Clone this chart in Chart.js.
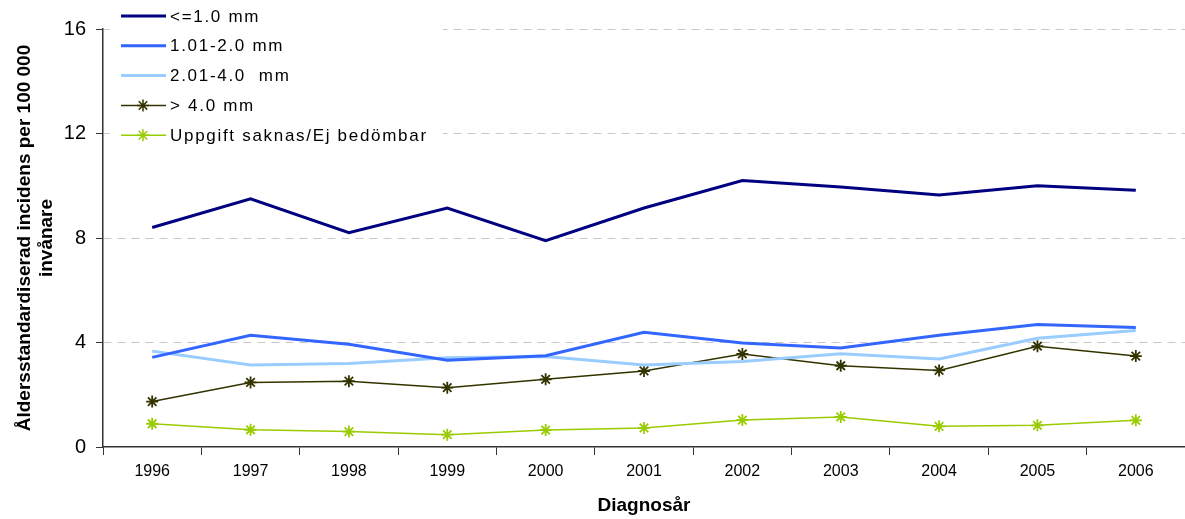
<!DOCTYPE html>
<html lang="sv">
<head>
  <meta charset="UTF-8" />
  <script src="https://cdn.jsdelivr.net/npm/chart.js"></script>
  <title>Incidens per tjocklek</title>
  <style>
    body { margin: 0; background: #fff; }
    #wrap { width: 1185px; height: 519px; }
  </style>
</head>
<body>
  <div id="wrap"><canvas id="chart"></canvas></div>

  <script>
    // data
    const years = ['1996', '1997', '1998', '1999', '2000', '2001', '2002', '2003', '2004', '2005', '2006'];
    const upTo1 = [8.4, 9.5, 8.2, 9.15, 7.9, 9.15, 10.2, 9.95, 9.65, 10.0, 9.83];
    const from1to2 = [3.43, 4.28, 3.93, 3.32, 3.49, 4.39, 3.98, 3.79, 4.28, 4.69, 4.57];
    const from2to4 = [3.67, 3.14, 3.2, 3.42, 3.46, 3.14, 3.27, 3.57, 3.37, 4.16, 4.46];
    const over4 = [1.74, 2.47, 2.52, 2.27, 2.59, 2.91, 3.56, 3.11, 2.93, 3.86, 3.48];
    const missing = [0.89, 0.66, 0.59, 0.47, 0.65, 0.73, 1.03, 1.15, 0.79, 0.83, 1.02];
    const yTicks = [0, 4, 8, 12, 16];

    const FONT = 'Arial, "Liberation Sans", sans-serif';

    // legend drawn inside the plot, top left, on a white box
    const boxLegend = {
      id: 'boxLegend',
      afterDraw(chart) {
        const ctx = chart.ctx;
        ctx.save();
        ctx.fillStyle = '#fff';
        ctx.fillRect(110, 0, 333, 145);
        ctx.font = '17px ' + FONT;
        ctx.textBaseline = 'middle';
        ctx.letterSpacing = '1.7px';
        chart.data.datasets.forEach((ds, i) => {
          const y = 16 + i * 29.8;
          ctx.strokeStyle = ds.borderColor;
          ctx.lineWidth = ds.borderWidth;
          ctx.beginPath();
          ctx.moveTo(121, y);
          ctx.lineTo(166, y);
          ctx.stroke();
          if (ds.pointRadius > 0) {
            Chart.helpers.drawPoint(ctx, {
              pointStyle: ds.pointStyle, radius: ds.pointRadius,
              rotation: 0, borderWidth: ds.pointBorderWidth
            }, 143, y);
          }
          ctx.fillStyle = '#000';
          ctx.fillText(ds.label, 170, y + 1);
        });
        ctx.restore();
      }
    };

    new Chart(document.getElementById('chart'), {
      type: 'line',
      data: {
        labels: years,
        datasets: [
          { label: '<=1.0 mm', data: upTo1, borderColor: '#000080', borderWidth: 3, pointRadius: 0 },
          { label: '1.01-2.0 mm', data: from1to2, borderColor: '#3366FF', borderWidth: 3, pointRadius: 0 },
          { label: '2.01-4.0  mm', data: from2to4, borderColor: '#99CCFF', borderWidth: 3, pointRadius: 0 },
          { label: '> 4.0 mm', data: over4, borderColor: '#333300', borderWidth: 1.5,
            pointStyle: 'star', pointRadius: 6, pointBorderWidth: 1.8, pointBorderColor: '#333300' },
          { label: 'Uppgift saknas/Ej bedömbar', data: missing, borderColor: '#99CC00', borderWidth: 1.5,
            pointStyle: 'star', pointRadius: 6, pointBorderWidth: 1.8, pointBorderColor: '#99CC00' }
        ]
      },
      options: {
        responsive: true,
        maintainAspectRatio: false,
        animation: false,
        layout: { autoPadding: false, padding: { top: 29, right: 0, bottom: 2, left: 0 } },
        elements: { line: { tension: 0, fill: false } },
        plugins: { legend: { display: false }, tooltip: { enabled: false } },
        scales: {
          x: {
            offset: true,
            grid: { offset: true, drawOnChartArea: false, tickLength: 8, tickColor: '#333', tickWidth: 1 },
            border: { color: '#333', width: 1.5 },
            ticks: { color: '#000', font: { family: FONT, size: 16 }, padding: 7, maxRotation: 0 },
            title: { display: true, text: 'Diagnosår', color: '#000',
                     font: { family: FONT, size: 19, weight: 'bold' }, padding: { top: 11, bottom: 0 } },
            afterFit(scale) { scale.height = 70; }
          },
          y: {
            min: 0, max: 16,
            afterBuildTicks(scale) { scale.ticks = yTicks.map(v => ({ value: v })); },
            grid: {
              color: ctx => ctx.tick && ctx.tick.value === 0 ? 'rgba(0,0,0,0)' : '#c8c8c8',
              lineWidth: 1, tickLength: 7, tickColor: '#333', tickWidth: 1
            },
            border: { color: '#333', width: 1.5, dash: [8, 6] },
            ticks: { color: '#000', font: { family: FONT, size: 20 }, padding: 10 },
            title: { display: true, text: ['Åldersstandardiserad incidens per 100 000', 'invånare'],
                     color: '#000', font: { family: FONT, size: 19, weight: 'bold' },
                     padding: { top: 13, bottom: 6 } },
            afterFit(scale) { scale.width = 103; }
          }
        }
      },
      plugins: [boxLegend]
    });
  </script>
</body>
</html>
